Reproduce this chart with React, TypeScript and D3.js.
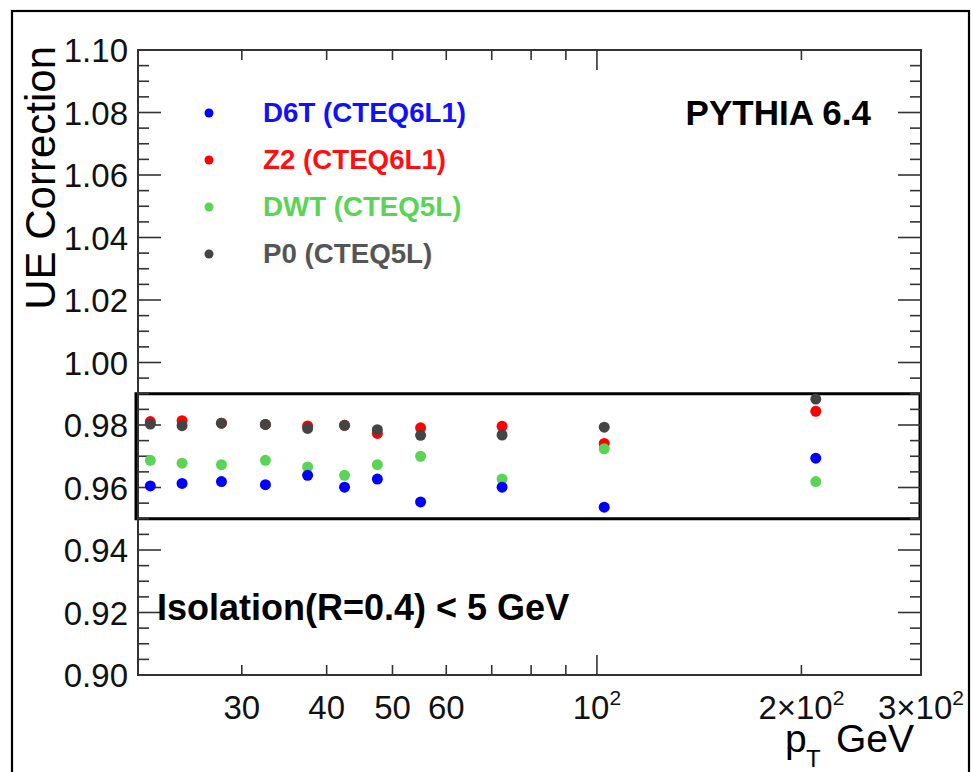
import React from "react";
import * as d3 from "d3";

const ptBins = [22, 24.5, 28, 32.5, 37.5, 42.5, 47.5, 55, 72.5, 102.5, 210];
const d6t = [0.9605, 0.9613, 0.9619, 0.9609, 0.9639, 0.9601, 0.9627, 0.9554, 0.9601, 0.9537, 0.9694];
const z2 = [0.9811, 0.9814, 0.9806, 0.9802, 0.9797, 0.9799, 0.9773, 0.9791, 0.9796, 0.9741, 0.9844];
const dwt = [0.9687, 0.9678, 0.9673, 0.9687, 0.9666, 0.9639, 0.9673, 0.97, 0.9627, 0.9724, 0.9619];
const p0 = [0.9803, 0.9798, 0.9806, 0.9802, 0.9789, 0.9799, 0.9785, 0.9767, 0.9768, 0.9793, 0.9883];

const seriesNames = ["D6T (CTEQ6L1)", "Z2 (CTEQ6L1)", "DWT (CTEQ5L)", "P0 (CTEQ5L)"];
const seriesColors = ["#0000ff", "#ff0000", "#59d454", "#444444"];
const legendTextColors = ["#1010ff", "#ff1010", "#59d454", "#555555"];
const seriesValues = [d6t, z2, dwt, p0];
const drawOrder = [1, 2, 0, 3];

const xDomain = [21.1, 300];
const yDomain = [0.9, 1.1];
const xMinorTicks = [30, 40, 50, 60, 70, 80, 90, 200];
const xMajorTicks = [100];
const xLabelTicks = [30, 40, 50, 60, 100, 200, 300];
const xLabelMain = ["30", "40", "50", "60", "10", "2\u00d710", "3\u00d710"];
const xLabelSup = ["", "", "", "", "2", "2", "2"];
const boxRange = [0.95, 0.99];

const FONT = "'Liberation Sans', Arial, Helvetica, sans-serif";

export default function App() {
  const left = 138, right = 921, top = 50, bottom = 675;
  const x = d3.scaleLog().domain(xDomain).range([left, right]);
  const y = d3.scaleLinear().domain(yDomain).range([bottom, top]);

  const yMajor = d3.range(0, 11).map((i) => 0.9 + i * 0.02);
  const yMinor = d3.range(0, 41).map((i) => 0.9 + i * 0.005).filter((_, i) => i % 4 !== 0);

  const axisColor = "#333";

  return (
    <svg
      width={971}
      height={772}
      style={{ position: "absolute", left: 0, top: 0, background: "#fff" }}
      fontFamily={FONT}
    >
      <rect x={0} y={0} width={971} height={772} fill="#fff" />
      {/* outer frame */}
      <rect x={12} y={11} width={957} height={800} fill="none" stroke="#000" strokeWidth={2.2} />

      {/* box region */}
      <rect
        x={left - 2}
        y={y(boxRange[1])}
        width={right - left + 1}
        height={y(boxRange[0]) - y(boxRange[1])}
        fill="none"
        stroke="#000"
        strokeWidth={3}
      />

      {/* y ticks */}
      {yMajor.map((v, i) => (
        <g key={"ym" + i}>
          <line x1={left} x2={left + 23} y1={y(v)} y2={y(v)} stroke={axisColor} strokeWidth={1.6} />
          <line x1={right} x2={right - 23} y1={y(v)} y2={y(v)} stroke={axisColor} strokeWidth={1.6} />
          <text x={128} y={y(v) + 12} textAnchor="end" fontSize={33} fill="#111">
            {v.toFixed(2)}
          </text>
        </g>
      ))}
      {yMinor.map((v, i) => (
        <g key={"yn" + i}>
          <line x1={left} x2={left + 11} y1={y(v)} y2={y(v)} stroke={axisColor} strokeWidth={1.6} />
          <line x1={right} x2={right - 11} y1={y(v)} y2={y(v)} stroke={axisColor} strokeWidth={1.6} />
        </g>
      ))}

      {/* x ticks */}
      {xMinorTicks.map((v, i) => (
        <g key={"xn" + i}>
          <line x1={x(v)} x2={x(v)} y1={bottom} y2={bottom - 10} stroke={axisColor} strokeWidth={1.6} />
          <line x1={x(v)} x2={x(v)} y1={top} y2={top + 10} stroke={axisColor} strokeWidth={1.6} />
        </g>
      ))}
      {xMajorTicks.map((v, i) => (
        <g key={"xm" + i}>
          <line x1={x(v)} x2={x(v)} y1={bottom} y2={bottom - 20} stroke={axisColor} strokeWidth={1.6} />
          <line x1={x(v)} x2={x(v)} y1={top} y2={top + 20} stroke={axisColor} strokeWidth={1.6} />
        </g>
      ))}
      {xLabelTicks.map((v, i) => (
        <text key={"xl" + i} x={x(v)} y={719} textAnchor="middle" fontSize={33} fill="#111">
          {xLabelMain[i]}
          {xLabelSup[i] ? (
            <tspan fontSize={21} dy={-14}>
              {xLabelSup[i]}
            </tspan>
          ) : null}
        </text>
      ))}

      {/* plot frame */}
      <rect x={left} y={top} width={right - left} height={bottom - top} fill="none" stroke={axisColor} strokeWidth={2} />

      {/* data */}
      {drawOrder.map((s) => (
        <g key={"s" + s}>
          {seriesValues[s].map((v, i) => (
            <circle key={i} cx={x(ptBins[i])} cy={y(v)} r={5.5} fill={seriesColors[s]} />
          ))}
        </g>
      ))}

      {/* legend */}
      {seriesNames.map((name, i) => (
        <g key={"lg" + i}>
          <circle cx={209} cy={113 + i * 47} r={4.5} fill={seriesColors[i]} />
          <text x={263} y={113 + i * 47 + 9} fontSize={27.7} fontWeight="bold" fill={legendTextColors[i]}>
            {name}
          </text>
        </g>
      ))}

      <text x={871} y={125} textAnchor="end" fontSize={35} fontWeight="bold" fill="#000">
        PYTHIA 6.4
      </text>
      <text x={157} y={620} fontSize={36} fontWeight="bold" fill="#000">
        Isolation(R=0.4) &lt; 5 GeV
      </text>

      {/* axis titles */}
      <text
        transform="translate(55,46) rotate(-90)"
        textAnchor="end"
        fontSize={42}
        fill="#000"
      >
        UE Correction
      </text>
      <text x={785} y={752} fontSize={39} fill="#000">p</text>
      <text x={806} y={767} fontSize={24} fill="#000">T</text>
      <text x={914} y={752} textAnchor="end" fontSize={39} fill="#000">GeV</text>
    </svg>
  );
}
